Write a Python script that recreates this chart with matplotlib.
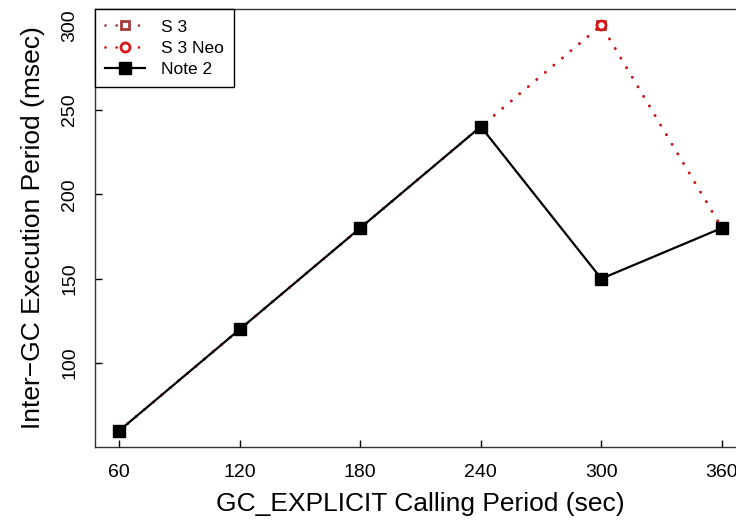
import matplotlib
matplotlib.use("Agg")
import matplotlib.pyplot as plt

plt.rcParams['font.family'] = ['Liberation Sans', 'DejaVu Sans']

periods = [60, 120, 180, 240, 300, 360]
s3 = [60, 120, 180, 240, 300, 180]
s3_neo = [60, 120, 180, 240, 300, 180]
note2 = [60, 120, 180, 240, 150, 180]
y_ticks = [100, 150, 200, 250, 300]

fig = plt.figure(figsize=(7.36, 5.22), dpi=100)
ax = fig.add_axes([95 / 736, 75 / 522, 651 / 736, 438 / 522])

dotted = (0, (0.01, 4))
ax.plot(periods, s3, color='#a83a3a', lw=2, linestyle=dotted,
        dash_capstyle='round', marker='s', ms=6, mfc='white', mew=2,
        label='S 3', zorder=2)
ax.plot(periods, s3_neo, color='#d81818', lw=2, linestyle=dotted,
        dash_capstyle='round', marker='o', ms=6.5, mfc='white', mew=2,
        label='S 3 Neo', zorder=2.5)
ax.plot(periods, note2, color='black', lw=1.6, marker='s', ms=8.5,
        label='Note 2', zorder=3)

ax.set_xlim(48, 372)
ax.set_ylim(50.4, 309.6)
ax.set_xticks(periods)
ax.set_yticks(y_ticks)
ax.tick_params(direction='in', length=5, width=1, labelsize=14)
ax.tick_params(axis='x', pad=12)
ax.tick_params(axis='y', pad=12)
for lab in ax.get_yticklabels():
    lab.set_rotation(90)
    lab.set_va('center')
for sp in ax.spines.values():
    sp.set_linewidth(1)
    sp.set_color('#333333')

ax.set_xlabel('GC_EXPLICIT Calling Period (sec)', fontsize=19, labelpad=8)
ax.set_ylabel('Inter\u2212GC Execution Period (msec)', fontsize=19, labelpad=12)

leg = ax.legend(loc='upper left', borderaxespad=0, fancybox=False,
                framealpha=1, edgecolor='black', fontsize=12.5,
                handlelength=2.3, handletextpad=0.9, labelspacing=0.35,
                borderpad=0.6)
leg.get_frame().set_linewidth(1)

fig.savefig('out.png', dpi=100)
